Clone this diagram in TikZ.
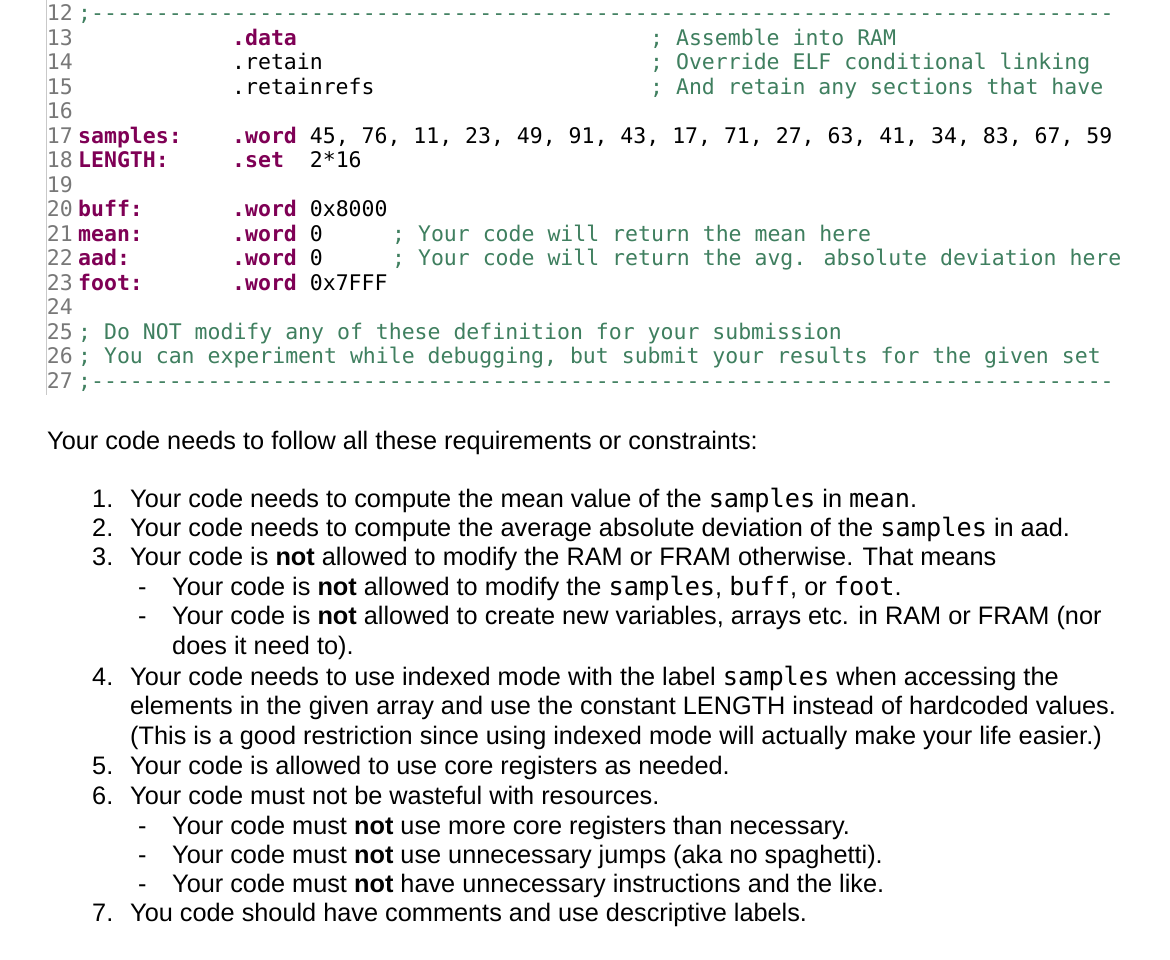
\documentclass[tikz,border=0pt]{standalone}
\usepackage{fontspec}
\setmainfont{Liberation Sans}
\newfontfamily\codefont{DejaVu Sans Mono}
\definecolor{kw}{HTML}{7F0055}
\definecolor{cm}{HTML}{3F7F5F}
\definecolor{ln}{HTML}{787878}
\begin{document}
\begin{tikzpicture}[x=1pt,y=-1pt,
  code/.style={anchor=base west,inner sep=0pt,font=\codefont\fontsize{21.5}{24}\selectfont},
  lnum/.style={anchor=base east,inner sep=0pt,text=ln,font=\codefont\fontsize{21.5}{24}\selectfont},
  prose/.style={anchor=base west,inner sep=0pt,font=\fontsize{25.3}{30}\selectfont}]
\useasboundingbox (0,0) rectangle (1170,960);
\fill[white] (0,0) rectangle (1170,960);
\draw[ln!40,line width=1pt] (46,0) -- (46,395);
\newcommand{\K}[1]{\textcolor{kw}{\textbf{#1}}}
\newcommand{\C}[1]{\textcolor{cm}{#1}}
\newcommand{\M}[1]{{\codefont #1}}
\def\dashes{-------------------------------------------------------------------------------}
\foreach \n [count=\i from 0] in {12,...,27}
  \node[lnum] (ln\n) at (73,21+\i*24.47) {\n};
\def\Y#1{21+(#1-12)*24.47}
\node[code] (l12) at (78,{\Y{12}}) {\C{;\dashes}};
\node[code] (l13) at (232,{\Y{13}}) {\K{.data}};
\node[code] (l14) at (232,{\Y{14}}) {.retain};
\node[code] (l15) at (232,{\Y{15}}) {.retainrefs};
\node[code] (c13) at (650,{\Y{13}}) {\C{; Assemble into RAM}};
\node[code] (c14) at (650,{\Y{14}}) {\C{; Override ELF conditional linking}};
\node[code] (c15) at (650,{\Y{15}}) {\C{; And retain any sections that have}};
\node[code] (a17) at (78,{\Y{17}}) {\K{samples:}};
\node[code] (b17) at (232,{\Y{17}}) {\K{.word} 45, 76, 11, 23, 49, 91, 43, 17, 71, 27, 63, 41, 34, 83, 67, 59};
\node[code] (a18) at (78,{\Y{18}}) {\K{LENGTH:}};
\node[code] (b18) at (232,{\Y{18}}) {\K{.set}~~2*16};
\node[code] (a20) at (78,{\Y{20}}) {\K{buff:}};
\node[code] (b20) at (232,{\Y{20}}) {\K{.word} 0x8000};
\node[code] (a21) at (78,{\Y{21}}) {\K{mean:}};
\node[code] (b21) at (232,{\Y{21}}) {\K{.word} 0};
\node[code] (c21) at (392,{\Y{21}}) {\C{; Your code will return the mean here}};
\node[code] (a22) at (78,{\Y{22}}) {\K{aad:}};
\node[code] (b22) at (232,{\Y{22}}) {\K{.word} 0};
\node[code] (c22) at (392,{\Y{22}}) {\C{; Your code will return the avg. absolute deviation here}};
\node[code] (a23) at (78,{\Y{23}}) {\K{foot:}};
\node[code] (b23) at (232,{\Y{23}}) {\K{.word} 0x7FFF};
\node[code] (l25) at (78,{\Y{25}}) {\C{; Do NOT modify any of these definition for your submission}};
\node[code] (l26) at (78,{\Y{26}}) {\C{; You can experiment while debugging, but submit your results for the given set}};
\node[code] (l27) at (78,{\Y{27}}) {\C{;\dashes}};
%
\node[prose] (h) at (47,449) {Your code needs to follow all these requirements or constraints:};
\def\N#1#2#3{\node[prose] (n#1) at (92,#2) {#1.}; \node[prose] (t#1) at (130,#2) {#3};}
\N{1}{507}{Your code needs to compute the mean value of the \M{samples} in \M{mean}.}
\N{2}{536}{Your code needs to compute the average absolute deviation of the \M{samples} in aad.}
\N{3}{565}{Your code is \textbf{not} allowed to modify the RAM or FRAM otherwise. That means}
\node[prose] (d1) at (138,595) {-};
\node[prose] (s1) at (172,595) {Your code is \textbf{not} allowed to modify the \M{samples}, \M{buff}, or \M{foot}.};
\node[prose] (d2) at (138,624) {-};
\node[prose] (s2) at (172,624) {Your code is \textbf{not} allowed to create new variables, arrays etc. in RAM or FRAM (nor};
\node[prose] (s2b) at (172,654) {does it need to).};
\N{4}{685}{Your code needs to use indexed mode with the label \M{samples} when accessing the}
\node[prose] (t4b) at (130,714) {elements in the given array and use the constant LENGTH instead of hardcoded values.};
\node[prose] (t4c) at (130,744) {(This is a good restriction since using indexed mode will actually make your life easier.)};
\N{5}{774}{Your code is allowed to use core registers as needed.}
\N{6}{804}{Your code must not be wasteful with resources.}
\node[prose] (d3) at (138,834) {-};
\node[prose] (s3) at (172,834) {Your code must \textbf{not} use more core registers than necessary.};
\node[prose] (d4) at (138,863) {-};
\node[prose] (s4) at (172,863) {Your code must \textbf{not} use unnecessary jumps (aka no spaghetti).};
\node[prose] (d5) at (138,892) {-};
\node[prose] (s5) at (172,892) {Your code must \textbf{not} have unnecessary instructions and the like.};
\N{7}{921}{You code should have comments and use descriptive labels.}
\end{tikzpicture}
\end{document}
